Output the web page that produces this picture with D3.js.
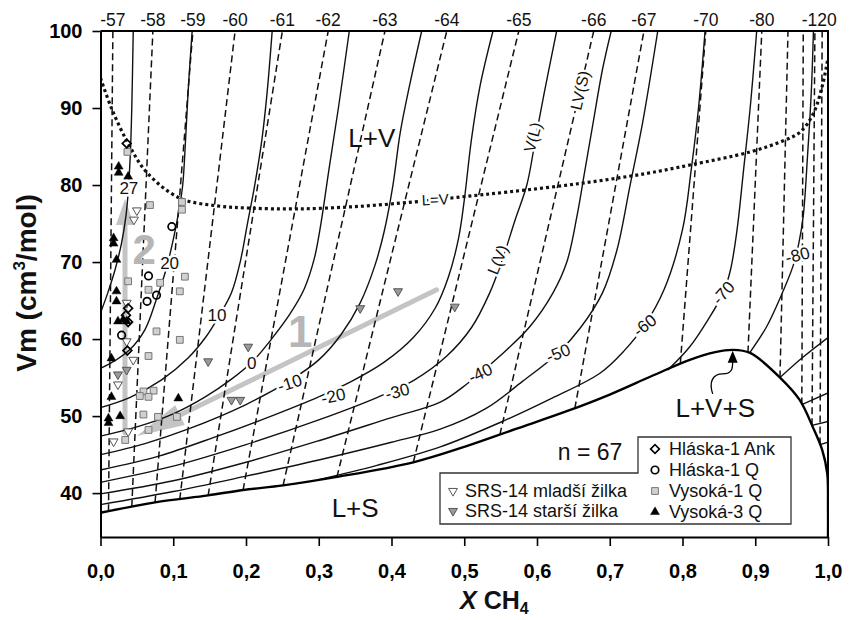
<!DOCTYPE html>
<html>
<head>
<meta charset="utf-8">
<script src="https://cdn.jsdelivr.net/npm/d3@7"></script>
<style>
    body { margin: 0; background: #fff; }
    svg text { font-family: "Liberation Sans", Arial, sans-serif; }
</style>
</head>
<body>
<svg id="chart" width="851" height="620"></svg>
<script>
// Axis ticks
const xTicks = [0, 0.1, 0.2, 0.3, 0.4, 0.5, 0.6, 0.7, 0.8, 0.9, 1.0];
const yTicks = [40, 50, 60, 70, 80, 90, 100];

// L+V+S boundary (lower limit of the L+V field)
const lvsBoundary = [[0, 37.45], [0.075, 38.8], [0.148, 39.7], [0.196, 40.4], [0.251, 41.0], [0.325, 42.1],
    [0.43, 44.0], [0.5, 46.0], [0.57, 48.3], [0.64, 50.6], [0.7, 52.8], [0.76, 55.3], [0.81, 57.3],
    [0.845, 58.3], [0.869, 58.6], [0.893, 58.2], [0.934, 55.0], [0.961, 52.1], [0.979, 48.6],
    [0.992, 45.6], [0.999, 42.5], [1.0, 38], [1.0, 34.3]];

// L=V curve (dotted)
const lEqualsV = [[0, 93.9], [0.015, 90], [0.038, 85.4], [0.064, 81.6], [0.109, 78.3], [0.16, 77.3],
    [0.206, 77.0], [0.27, 76.9], [0.35, 77.2], [0.43, 77.8], [0.49, 78.4], [0.56, 79.1], [0.659, 80.2],
    [0.75, 81.5], [0.81, 82.6], [0.893, 84.3], [0.94, 85.8], [0.962, 86.9], [0.98, 89.3], [0.993, 93.2], [1.0, 96.5]];

// Homogenization isotherms (solid lines), Vm vs X CH4
const th27 = [[0, 63.4], [0.01, 66], [0.02, 69], [0.029, 72.5], [0.035, 76], [0.038, 79], [0.041, 84], [0.043, 90], [0.045, 100]];
const th20 = [[0, 56.2], [0.02, 57.2], [0.04, 58.6], [0.061, 61.2], [0.077, 65.2], [0.09, 69], [0.1, 72.9], [0.108, 76.8], [0.113, 80], [0.117, 86], [0.121, 93], [0.126, 100]];
const th10 = [[0, 51.1], [0.04, 52.4], [0.084, 54.7], [0.12, 57.5], [0.145, 60.3], [0.163, 63], [0.18, 66], [0.192, 70], [0.202, 75], [0.212, 80], [0.222, 86], [0.229, 92], [0.236, 100]];
const th0 = [[0, 47.4], [0.05, 48.6], [0.1, 50.3], [0.144, 52.5], [0.18, 54.8], [0.21, 57.2], [0.235, 60], [0.26, 63.2], [0.28, 66.5], [0.294, 70.5], [0.303, 75], [0.314, 82], [0.327, 90], [0.342, 100]];
const thM10 = [[0, 45], [0.06, 46.4], [0.12, 48.3], [0.2, 51.5], [0.26, 54.6], [0.3, 57.3], [0.33, 60.5], [0.357, 64.7], [0.377, 69.5], [0.39, 74], [0.402, 80], [0.412, 86.8], [0.425, 93], [0.4415, 100]];
const thM20 = [[0, 43], [0.08, 44.8], [0.155, 47.2], [0.24, 50.2], [0.3, 52.5], [0.345, 54.5], [0.39, 57], [0.43, 60.2], [0.46, 64], [0.478, 68], [0.492, 73], [0.5, 78], [0.51, 86], [0.522, 93], [0.5395, 100]];
const thM30 = [[0, 41.4], [0.1, 43.5], [0.2, 46.3], [0.3, 49.5], [0.38, 52.4], [0.43, 54.6], [0.476, 57.8], [0.51, 61.5], [0.535, 66], [0.553, 70.5], [0.57, 75.5], [0.586, 80], [0.598, 86], [0.61, 92], [0.627, 100]];
const thM40 = [[0, 39.9], [0.1, 41.6], [0.2, 44], [0.3, 46.8], [0.4, 49.8], [0.467, 51.8], [0.504, 54.2], [0.522, 55.6], [0.549, 57.8], [0.59, 61.6], [0.622, 66], [0.641, 70], [0.655, 76], [0.666, 82], [0.677, 88], [0.69, 95], [0.702, 100]];
const thM50 = [[0, 38.5], [0.1, 40.2], [0.2, 42.2], [0.3, 44.3], [0.4, 46.6], [0.467, 48.3], [0.53, 51], [0.58, 54.5], [0.629, 58.2], [0.66, 61.5], [0.69, 66], [0.71, 71.6], [0.728, 80], [0.745, 88], [0.766, 100]];
const thM60 = [[0.3, 41.75], [0.38, 43.6], [0.467, 46.0], [0.55, 49.2], [0.62, 52.3], [0.687, 55.6], [0.72, 58.5], [0.748, 61.8], [0.775, 66.5], [0.8, 74.2], [0.812, 82], [0.822, 90], [0.831, 100]];
const thM70 = [[0.78, 56.0], [0.81, 59], [0.835, 62.5], [0.856, 66], [0.866, 69], [0.875, 74.2], [0.884, 82], [0.893, 90], [0.902, 100]];
const thM80 = [[0.893, 58.3], [0.915, 61.5], [0.935, 65.5], [0.952, 69.5], [0.96, 72.5], [0.966, 76], [0.972, 84], [0.977, 92], [0.98, 100]];
const thM90 = [[0.934, 55.0], [0.965, 57.6], [1.0, 60.2]];
const thM100 = [[0.964, 51.5], [1.0, 53.0]];
const thM110 = [[0.978, 48.8], [1.0, 49.3]];
const thM120 = [[0.989, 46.3], [1.0, 46.6]];

const thCurves = [th27, th20, th10, th0, thM10, thM20, thM30, thM40, thM50, thM60, thM70, thM80, thM90, thM100, thM110, thM120];

// Isotherm labels
const thLabels = ['27', '20', '10', '0', '-10', '-20', '-30', '-40', '-50', '-60', '-70', '-80'];
const thLabelPos = [[0.039, 79.6], [0.095, 69.9], [0.16, 63.1], [0.208, 56.9], [0.26, 54.3], [0.32, 52.6],
    [0.408, 53.2], [0.522, 55.6], [0.629, 58.2], [0.748, 61.8], [0.856, 66], [0.958, 70.9]];
const thLabelAngle = [0, 0, 0, 0, -18, -12, -15, -25, -22, -38, -48, -15];

// Melting isotherms (dashed lines): bottom on the boundary, top at Vm = 100
const tmLabels = ['-57', '-58', '-59', '-60', '-61', '-62', '-63', '-64', '-65', '-66', '-67', '-70', '-80', '', '', '', '-120'];
const tmBottomX = [0.011, 0.043, 0.075, 0.109, 0.148, 0.196, 0.251, 0.325, 0.43, 0.549, 0.652, 0.797, 0.89, 0.934, 0.964, 0.978, 0.989];
const tmBottomVm = [37.65, 38.2, 38.8, 39.2, 39.7, 40.4, 41.0, 42.1, 44.0, 47.6, 51.0, 56.8, 58.25, 55.0, 51.5, 48.8, 46.3];
const tmTopX = [0.017, 0.072, 0.127, 0.185, 0.25, 0.313, 0.391, 0.476, 0.575, 0.678, 0.747, 0.832, 0.909, 0.945, 0.966, 0.982, 0.992];

// Fluid inclusion data
const hlaskaAnk = [[0.036, 85.4], [0.038, 64.0], [0.035, 63.1], [0.038, 62.2], [0.037, 58.5]];
const hlaskaQ = [[0.098, 74.6], [0.066, 68.2], [0.077, 65.7], [0.064, 64.9], [0.029, 60.5]];
const vysoka1Q = [[0.037, 84.3], [0.068, 77.4], [0.112, 77.8], [0.112, 76.8], [0.038, 67.5], [0.082, 67.3],
    [0.116, 68.1], [0.066, 66.4], [0.109, 66.2], [0.077, 61.0], [0.109, 59.9], [0.066, 57.8], [0.059, 53.2],
    [0.073, 53.3], [0.054, 52.6], [0.066, 52.5], [0.059, 50.2], [0.079, 49.9], [0.105, 49.9], [0.066, 48.2], [0.034, 46.9]];
const vysoka3Q = [[0.025, 82.4], [0.025, 81.6], [0.038, 81.1], [0.018, 73.1], [0.018, 72.4], [0.022, 70.3],
    [0.022, 66.2], [0.022, 64.9], [0.024, 62.3], [0.031, 62.5], [0.036, 62.3], [0.015, 57.5], [0.015, 52.5],
    [0.107, 52.3], [0.011, 49.7], [0.011, 49.1], [0.027, 50.0]];
const srsMladsi = [[0.05, 76.7], [0.046, 75.5], [0.036, 64.7], [0.036, 59.7], [0.045, 57.3], [0.024, 54.1], [0.038, 48.0], [0.018, 46.7]];
const srsStarsi = [[0.024, 55.4], [0.036, 56.0], [0.148, 57.1], [0.203, 59.0], [0.18, 52.1], [0.192, 52.1], [0.357, 64.0], [0.409, 66.2], [0.487, 64.2]];

// Trend arrows 1 and 2
const trend1 = [[0.462, 66.4], [0.05, 47.4]];
const trend2 = [[0.0337, 47.8], [0.0337, 78.2]];
const lvsPeak = [0.869, 58.6];

const svg = d3.select('#chart');
const x = d3.scaleLinear().domain([0, 1]).range([100.5, 828]);
const y = d3.scaleLinear().domain([34.3, 100]).range([537, 31]);

svg.append('clipPath').attr('id', 'plot')
    .append('rect').attr('x', x(0)).attr('y', y(100)).attr('width', x(1) - x(0)).attr('height', y(34.3) - y(100));

const plot = svg.append('g').attr('clip-path', 'url(#plot)');

const smooth = d3.line().x(d => x(d[0])).y(d => y(d[1])).curve(d3.curveCatmullRom.alpha(0.5));
const straight = d3.line().x(d => x(d[0])).y(d => y(d[1]));

// Gray trend arrows
function grayArrow(pts, headLen, headHalf) {
    const p0 = [x(pts[0][0]), y(pts[0][1])];
    const p1 = [x(pts[1][0]), y(pts[1][1])];
    const dx = p1[0] - p0[0], dy = p1[1] - p0[1];
    const len = Math.hypot(dx, dy);
    const ux = dx / len, uy = dy / len;
    const bx = p1[0] - ux * headLen, by = p1[1] - uy * headLen;
    plot.append('line')
        .attr('x1', p0[0]).attr('y1', p0[1]).attr('x2', bx).attr('y2', by)
        .attr('stroke', '#c4c4c4').attr('stroke-width', 5).attr('stroke-linecap', 'round');
    plot.append('path')
        .attr('d', `M${p1[0]},${p1[1]}L${bx - uy * headHalf},${by + ux * headHalf}L${bx + uy * headHalf},${by - ux * headHalf}Z`)
        .attr('fill', '#c4c4c4');
}
grayArrow(trend1, 48, 11);
grayArrow(trend2, 26, 9);

// Dashed melting lines
tmBottomX.forEach((bx, i) => {
    plot.append('path')
        .attr('d', straight([[bx, tmBottomVm[i]], [tmTopX[i], 100]]))
        .attr('fill', 'none').attr('stroke', '#111').attr('stroke-width', 1.5)
        .attr('stroke-dasharray', '7,4');
});

// Solid homogenization lines
thCurves.forEach(c => {
    plot.append('path')
        .attr('d', smooth(c))
        .attr('fill', 'none').attr('stroke', '#111').attr('stroke-width', 1.4);
});

// L+V+S boundary
plot.append('path')
    .attr('d', smooth(lvsBoundary))
    .attr('fill', 'none').attr('stroke', '#000').attr('stroke-width', 2.4);

// L=V dotted curve
plot.append('path')
    .attr('d', smooth(lEqualsV))
    .attr('fill', 'none').attr('stroke', '#111').attr('stroke-width', 3.2)
    .attr('stroke-dasharray', '3,3');

// Labels on curves (white halo breaks the line)
function haloText(txt, px, py, angle, size) {
    return svg.append('text')
        .attr('transform', `translate(${px},${py}) rotate(${angle})`)
        .attr('text-anchor', 'middle').attr('dy', '0.35em')
        .attr('font-size', size).attr('fill', '#111')
        .attr('stroke', '#fff').attr('stroke-width', 5).attr('paint-order', 'stroke')
        .text(txt);
}
thLabels.forEach((t, i) => {
    haloText(t, x(thLabelPos[i][0]), y(thLabelPos[i][1]), thLabelAngle[i], 17);
});
haloText('L=V', x(0.46), y(78.1), -3, 15);
haloText('LV(S)', x(0.659), y(92.3), -77, 16);
haloText('V(L)', x(0.594), y(86.2), -75, 16);
haloText('L(V)', x(0.546), y(70.3), -68, 16);

// Data markers
const sym = (type, size) => d3.symbol().type(type).size(size)();
function drawPoints(data, path, rot, fill, stroke, sw) {
    svg.append('g').selectAll('path').data(data).join('path')
        .attr('d', path)
        .attr('transform', d => `translate(${x(d[0])},${y(d[1])}) rotate(${rot})`)
        .attr('fill', fill).attr('stroke', stroke).attr('stroke-width', sw);
}
const triPath = sym(d3.symbolTriangle, 34);
const squarePath = sym(d3.symbolSquare, 46);
const diamondPath = sym(d3.symbolSquare, 38);
const circlePath = sym(d3.symbolCircle, 44);
drawPoints(vysoka1Q, squarePath, 0, '#d0d0d0', '#777', 1);
drawPoints(srsMladsi, triPath, 180, '#fff', '#555', 1);
drawPoints(srsStarsi, triPath, 180, '#9a9a9a', '#555', 1);
drawPoints(vysoka3Q, triPath, 0, '#000', '#000', 0.5);
drawPoints(hlaskaQ, circlePath, 0, 'none', '#000', 1.7);
drawPoints(hlaskaAnk, diamondPath, 45, 'none', '#000', 1.7);

// Gray trend numbers
svg.append('text').attr('x', x(0.2745)).attr('y', y(59.0)).attr('text-anchor', 'middle')
    .attr('font-size', 44).attr('font-weight', 'bold').attr('fill', '#b6b6b6').text('1');
svg.append('text').attr('x', x(0.06)).attr('y', y(69.7)).attr('text-anchor', 'middle')
    .attr('font-size', 42).attr('font-weight', 'bold').attr('fill', '#b6b6b6').text('2');

// Field labels
const field = (t, px, py) => svg.append('text').attr('x', px).attr('y', py)
    .attr('text-anchor', 'middle').attr('font-size', 26).attr('fill', '#111').text(t);
field('L+V', x(0.373), y(84.95));
field('L+S', x(0.35), y(36.9));
field('L+V+S', x(0.845), y(49.9));

// Arrow from L+V+S label to the peak
const pk = [x(lvsPeak[0]), y(lvsPeak[1])];
svg.append('path')
    .attr('d', `M${pk[0] - 20},${pk[1] + 44} C${pk[0] - 24},${pk[1] + 32} ${pk[0] - 20},${pk[1] + 24} ${pk[0] - 10},${pk[1] + 24} C${pk[0]},${pk[1] + 24} ${pk[0]},${pk[1] + 18} ${pk[0]},${pk[1] + 11}`)
    .attr('fill', 'none').attr('stroke', '#000').attr('stroke-width', 1.3);
svg.append('path')
    .attr('d', `M${pk[0]},${pk[1] + 1}L${pk[0] - 5},${pk[1] + 13}L${pk[0] + 5},${pk[1] + 13}Z`)
    .attr('fill', '#000');

// Axes
const fontFam = '"Liberation Sans", Arial, sans-serif';
svg.append('g').attr('transform', `translate(0,${y(34.3)})`)
    .call(d3.axisBottom(x).tickValues(xTicks).tickSize(9).tickSizeOuter(0).tickPadding(18)
        .tickFormat(d => d.toFixed(1).replace('.', ',')))
    .call(g => {
        g.attr('font-size', 20).attr('font-family', fontFam).attr('font-weight', 'bold');
        g.select('.domain').attr('stroke-width', 2);
        g.selectAll('.tick line').attr('stroke-width', 1.6);
    });
svg.append('g').attr('transform', `translate(${x(0)},0)`)
    .call(d3.axisLeft(y).tickValues(yTicks).tickSize(8).tickSizeOuter(0).tickPadding(10))
    .call(g => {
        g.attr('font-size', 20).attr('font-family', fontFam).attr('font-weight', 'bold');
        g.select('.domain').attr('stroke-width', 2);
        g.selectAll('.tick line').attr('stroke-width', 1.6);
    });
// Top and right frame
svg.append('path')
    .attr('d', `M${x(0)},${y(100)}H${x(1)}V${y(34.3)}`)
    .attr('fill', 'none').attr('stroke', '#000').attr('stroke-width', 2);

// Melting temperature labels along the top
tmLabels.forEach((t, i) => {
    if (!t) return;
    svg.append('text').attr('x', x(tmTopX[i]) - (t === '-120' ? 3 : 0)).attr('y', 26)
        .attr('text-anchor', 'middle').attr('font-size', 17.5).attr('fill', '#111').text(t);
});

// Axis titles
const yTitle = svg.append('text')
    .attr('transform', 'translate(36,283) rotate(-90)')
    .attr('text-anchor', 'middle').attr('font-size', 28).attr('font-weight', 'bold').attr('fill', '#111');
yTitle.append('tspan').text('Vm (cm');
yTitle.append('tspan').attr('font-size', 17).attr('dy', -11).text('3');
yTitle.append('tspan').attr('dy', 11).text('/mol)');

const xTitle = svg.append('text').attr('x', 460).attr('y', 609)
    .attr('font-size', 25).attr('font-weight', 'bold').attr('fill', '#111');
xTitle.append('tspan').attr('font-style', 'italic').text('X');
xTitle.append('tspan').text(' CH');
xTitle.append('tspan').attr('font-size', 16).attr('dy', 5).text('4');

// Legend
svg.append('text').attr('x', 590).attr('y', 460).attr('text-anchor', 'middle')
    .attr('font-size', 23).attr('fill', '#111').text('n = 67');
svg.append('path')
    .attr('d', 'M440,473H638V437H791V524H440Z')
    .attr('fill', '#fff').attr('stroke', '#333').attr('stroke-width', 1.3);

const legendRight = [
    { label: 'Hláska-1 Ank', path: diamondPath, rot: 45, fill: '#fff', stroke: '#000', sw: 1.7 },
    { label: 'Hláska-1 Q', path: circlePath, rot: 0, fill: '#fff', stroke: '#000', sw: 1.7 },
    { label: 'Vysoká-1 Q', path: squarePath, rot: 0, fill: '#d0d0d0', stroke: '#777', sw: 1 },
    { label: 'Vysoká-3 Q', path: triPath, rot: 0, fill: '#000', stroke: '#000', sw: 0.5 }
];
const legendLeft = [
    { label: 'SRS-14 mladší žilka', path: triPath, rot: 180, fill: '#fff', stroke: '#555', sw: 1 },
    { label: 'SRS-14 starší žilka', path: triPath, rot: 180, fill: '#9a9a9a', stroke: '#555', sw: 1 }
];
legendRight.forEach((e, i) => {
    const by = 455 + i * 21;
    svg.append('path').attr('d', e.path).attr('transform', `translate(655,${by - 6}) rotate(${e.rot})`)
        .attr('fill', e.fill).attr('stroke', e.stroke).attr('stroke-width', e.sw);
    svg.append('text').attr('x', 669).attr('y', by).attr('font-size', 18).attr('fill', '#111').text(e.label);
});
legendLeft.forEach((e, i) => {
    const by = 497 + i * 20;
    svg.append('path').attr('d', e.path).attr('transform', `translate(453,${by - 6}) rotate(${e.rot})`)
        .attr('fill', e.fill).attr('stroke', e.stroke).attr('stroke-width', e.sw);
    svg.append('text').attr('x', 465).attr('y', by).attr('font-size', 18).attr('fill', '#111').text(e.label);
});
</script>
</body>
</html>
